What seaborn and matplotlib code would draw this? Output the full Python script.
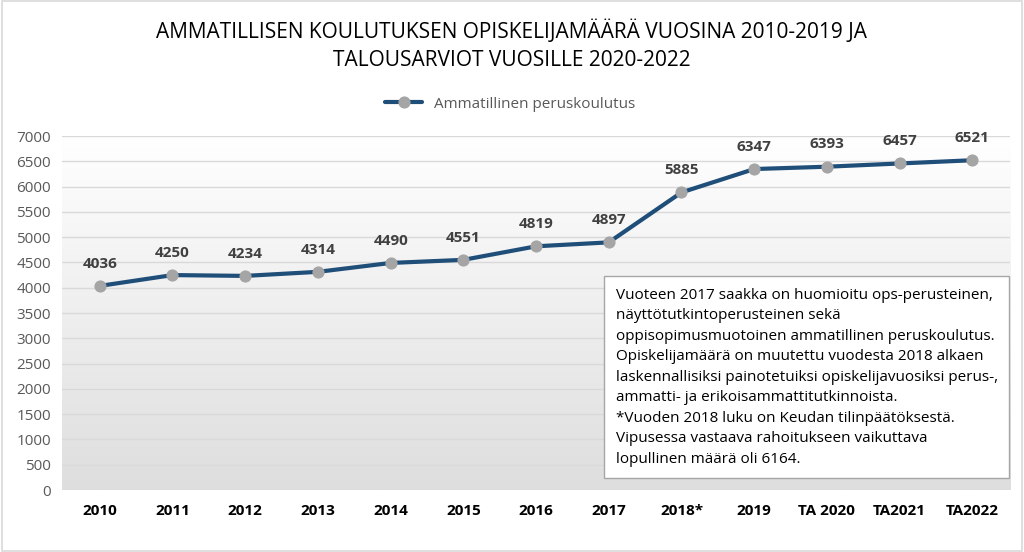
import numpy as np
import pandas as pd
import matplotlib
matplotlib.use('Agg')
import matplotlib.pyplot as plt
from matplotlib.patches import Rectangle
import seaborn as sns

years = ['2010', '2011', '2012', '2013', '2014', '2015', '2016', '2017',
         '2018*', '2019', 'TA 2020', 'TA2021', 'TA2022']
students = [4036, 4250, 4234, 4314, 4490, 4551, 4819, 4897,
            5885, 6347, 6393, 6457, 6521]
series_name = 'Ammatillinen peruskoulutus'
title = ('AMMATILLISEN KOULUTUKSEN OPISKELIJAMÄÄRÄ VUOSINA 2010-2019 JA\n'
         'TALOUSARVIOT VUOSILLE 2020-2022')
note = ('Vuoteen 2017 saakka on huomioitu ops-perusteinen,\n'
        'näyttötutkintoperusteinen sekä\n'
        'oppisopimusmuotoinen ammatillinen peruskoulutus.\n'
        'Opiskelijamäärä on muutettu vuodesta 2018 alkaen\n'
        'laskennallisiksi painotetuiksi opiskelijavuosiksi perus-,\n'
        'ammatti- ja erikoisammattitutkinnoista.\n'
        '*Vuoden 2018 luku on Keudan tilinpäätöksestä.\n'
        'Vipusessa vastaava rahoitukseen vaikuttava\n'
        'lopullinen määrä oli 6164.')

df = pd.DataFrame({'Vuosi': years, 'Opiskelijat': students, 'Sarja': series_name})

sns.set_theme(style='white')
plt.rcParams['font.family'] = ['Open Sans', 'DejaVu Sans']

line_col = '#1F4E79'
fig = plt.figure(figsize=(10.24, 5.52), dpi=100)
ax = fig.add_axes([0.0605, 0.1123, 0.926, 0.6413])

# gradient plot area, white at top to light grey at bottom
grad = np.linspace(1.0, 0.0, 256).reshape(-1, 1)
ax.imshow(grad, cmap=matplotlib.colors.LinearSegmentedColormap.from_list('g', ['#dedede', '#ffffff']),
          extent=[0, 1, 0, 1], transform=ax.transAxes, aspect='auto', zorder=0)

sns.lineplot(data=df, x='Vuosi', y='Opiskelijat', hue='Sarja', palette=[line_col],
             sort=False, marker='o', markersize=8, markerfacecolor='#a5a5a5',
             markeredgecolor='#a5a5a5', linewidth=3, ax=ax, zorder=3)

for i, v in enumerate(students):
    ax.annotate(str(v), (i, v), xytext=(0, 11), textcoords='offset points',
                ha='center', va='bottom', fontsize=11, fontweight='bold', color='#404040')

ax.set_xlim(-0.52, len(years) - 0.48)
ax.set_ylim(0, 7000)
ax.set_yticks(range(0, 7001, 500))
ax.yaxis.grid(True, color='#d9d9d9', linewidth=1)
ax.set_axisbelow(True)
ax.tick_params(axis='y', labelsize=11, labelcolor='#595959', length=0, pad=8)
ax.tick_params(axis='x', labelsize=11, labelcolor='black', length=0, pad=10)
for lab in ax.get_xticklabels():
    lab.set_fontweight('bold')
ax.set_xlabel('')
ax.set_ylabel('')
for s in ax.spines.values():
    s.set_visible(False)

leg = ax.legend(loc='lower center', bbox_to_anchor=(0.473, 1.03), frameon=False,
                fontsize=11, handlelength=2.4)
for t in leg.get_texts():
    t.set_color('#595959')

ax.text(0.584, 0.319, note, transform=ax.transAxes, ha='left', va='center',
        fontsize=11, linespacing=1.5, color='black', zorder=5,
        bbox=dict(boxstyle='square,pad=0.75', facecolor='white', edgecolor='#a6a6a6', linewidth=1))

fig.text(0.5, 0.918, title, ha='center', va='center', fontsize=15,
         linespacing=1.45, color='black')

fig.patches.append(Rectangle((0.002, 0.002), 0.996, 0.996, transform=fig.transFigure,
                             fill=False, edgecolor='#d9d9d9', linewidth=1.2))

fig.savefig('out.png', dpi=100)
